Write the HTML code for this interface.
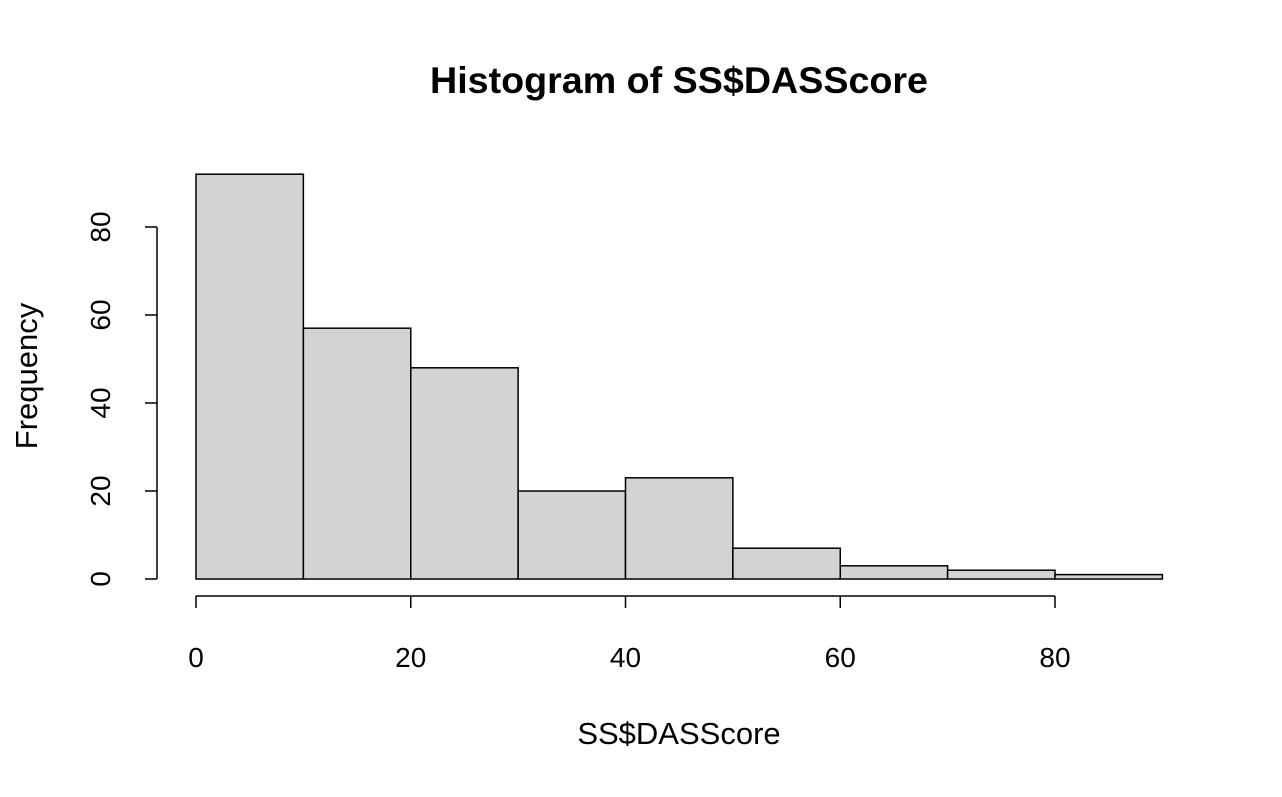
<!DOCTYPE html>
<html><head><meta charset="utf-8"><style>
html,body{margin:0;padding:0;background:#fff;}
svg text{font-family:"Liberation Sans",Arial,sans-serif;fill:#000;}
</style></head><body>
<svg id="chart" width="1282" height="792" xmlns="http://www.w3.org/2000/svg">
<text x="679" y="93" font-size="37" font-weight="bold" text-anchor="middle" textLength="498" lengthAdjust="spacingAndGlyphs">Histogram of SS$DASScore</text>
<text x="679" y="744" font-size="31" text-anchor="middle">SS$DASScore</text>
<text transform="translate(37,376) rotate(-90)" font-size="31" text-anchor="middle">Frequency</text>
<g id="bars"></g><g id="xaxis"></g><g id="yaxis"></g>
</svg>
<script>
const binEdges=[0,10,20,30,40,50,60,70,80,90];
const counts=[92,57,48,20,23,7,3,2,1];
const xTicks=[0,20,40,60,80];
const yTicks=[0,20,40,60,80];
const NS="http://www.w3.org/2000/svg";
const xs=v=>196+(v/80)*(1055-196);
const ys=v=>579-(v/80)*(579-227);
function mk(tag,attrs,parent){const e=document.createElementNS(NS,tag);for(const k in attrs)e.setAttribute(k,attrs[k]);parent.appendChild(e);return e;}
const bars=document.getElementById('bars');
counts.forEach((c,i)=>{
 const x0=xs(binEdges[i]),x1=xs(binEdges[i+1]);
 const r=mk('rect',{x:x0,y:ys(c),width:x1-x0,height:ys(0)-ys(c),fill:'#d3d3d3',stroke:'#000','stroke-width':1.5},bars);
 
 
});
const xa=document.getElementById('xaxis');
const xl=mk('line',{x1:xs(xTicks[0]),x2:xs(xTicks[xTicks.length-1]),y1:596,y2:596,stroke:'#000','stroke-width':1.5},xa);


xTicks.forEach(t=>{
 const l=mk('line',{x1:xs(t),x2:xs(t),y1:596,y2:608,stroke:'#000','stroke-width':1.5},xa);
 
 
 const tx=mk('text',{x:xs(t),y:667,'font-size':28,'text-anchor':'middle'},xa);
 tx.textContent=t;
 
 
});
const ya=document.getElementById('yaxis');
const yl=mk('line',{x1:157,x2:157,y1:ys(yTicks[0]),y2:ys(yTicks[yTicks.length-1]),stroke:'#000','stroke-width':1.5},ya);


yTicks.forEach(t=>{
 const l=mk('line',{x1:145,x2:157,y1:ys(t),y2:ys(t),stroke:'#000','stroke-width':1.5},ya);
 
 
 const tx=mk('text',{transform:'translate(110,'+ys(t)+') rotate(-90)','font-size':28,'text-anchor':'middle'},ya);
 tx.textContent=t;
 
 
});
</script>
</body></html>
